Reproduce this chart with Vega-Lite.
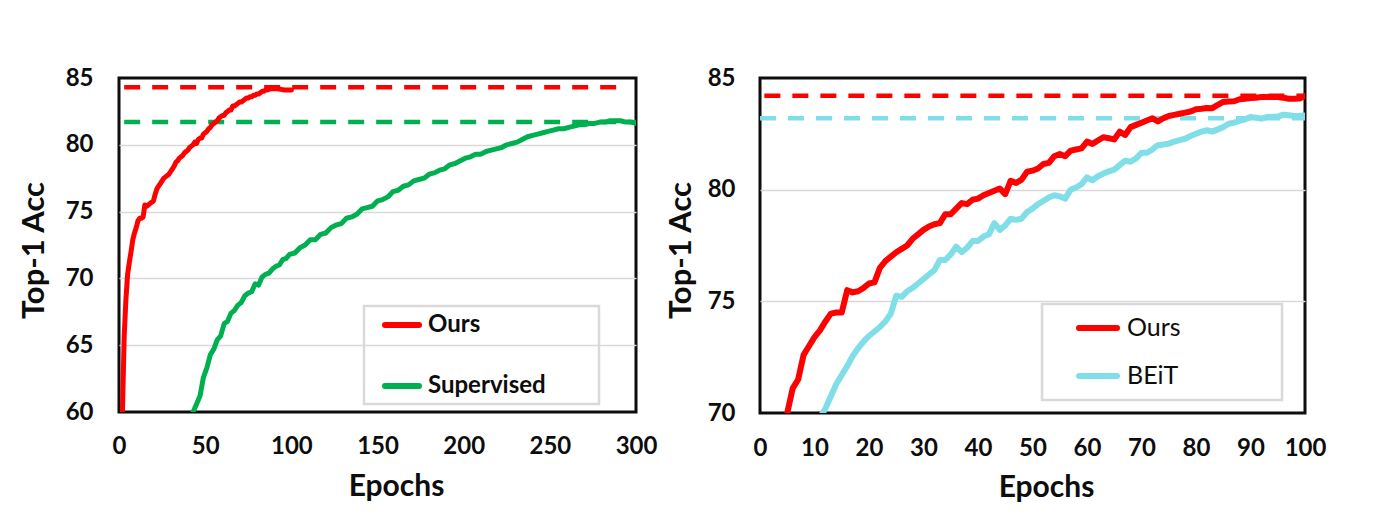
{
  "$schema": "https://vega.github.io/schema/vega-lite/v6.json",
  "background": "white",
  "padding": {"left": 16, "top": 64, "right": 5, "bottom": 5},
  "bounds": "flush",
  "spacing": 124,
  "config": {
    "font": "Lato",
    "view": {"stroke": "#0d0d0d", "strokeWidth": 3},
    "axis": {
      "labelFont": "Lato", "titleFont": "Lato",
      "labelColor": "#0d0d0d", "titleColor": "#0d0d0d",
      "labelFontWeight": "bold", "titleFontWeight": "bold",
      "labelFontSize": 24,
      "ticks": false, "domain": false, "labelFlush": false, "labelOverlap": false,
      "gridColor": "#d9d9d9", "gridWidth": 1.5
    },
    "axisX": {"titleFontSize": 30},
    "axisY": {"titleFontSize": 31}
  },
  "datasets": {
    "leftCurves": [
      {"series":"Ours","epoch":2,"acc":60.0},{"series":"Ours","epoch":3,"acc":65.6},{"series":"Ours","epoch":4,"acc":68.4},{"series":"Ours","epoch":5,"acc":70.3},{"series":"Ours","epoch":6,"acc":71.2},{"series":"Ours","epoch":7,"acc":72.0},{"series":"Ours","epoch":8,"acc":72.9},{"series":"Ours","epoch":9,"acc":73.4},{"series":"Ours","epoch":10,"acc":73.8},{"series":"Ours","epoch":11,"acc":74.3},{"series":"Ours","epoch":12,"acc":74.5},{"series":"Ours","epoch":13,"acc":74.5},{"series":"Ours","epoch":14,"acc":74.6},{"series":"Ours","epoch":15,"acc":75.5},{"series":"Ours","epoch":16,"acc":75.4},{"series":"Ours","epoch":17,"acc":75.5},{"series":"Ours","epoch":18,"acc":75.6},{"series":"Ours","epoch":19,"acc":75.7},{"series":"Ours","epoch":20,"acc":75.8},{"series":"Ours","epoch":21,"acc":76.3},{"series":"Ours","epoch":22,"acc":76.7},{"series":"Ours","epoch":23,"acc":76.9},{"series":"Ours","epoch":24,"acc":77.1},{"series":"Ours","epoch":25,"acc":77.3},{"series":"Ours","epoch":26,"acc":77.5},{"series":"Ours","epoch":27,"acc":77.6},{"series":"Ours","epoch":28,"acc":77.7},{"series":"Ours","epoch":29,"acc":77.8},{"series":"Ours","epoch":30,"acc":78.0},{"series":"Ours","epoch":31,"acc":78.2},{"series":"Ours","epoch":32,"acc":78.4},{"series":"Ours","epoch":33,"acc":78.7},{"series":"Ours","epoch":34,"acc":78.8},{"series":"Ours","epoch":35,"acc":79.0},{"series":"Ours","epoch":36,"acc":79.1},{"series":"Ours","epoch":37,"acc":79.2},{"series":"Ours","epoch":38,"acc":79.4},{"series":"Ours","epoch":39,"acc":79.5},{"series":"Ours","epoch":40,"acc":79.6},{"series":"Ours","epoch":41,"acc":79.8},{"series":"Ours","epoch":42,"acc":79.9},{"series":"Ours","epoch":43,"acc":80.0},{"series":"Ours","epoch":44,"acc":80.2},{"series":"Ours","epoch":45,"acc":80.1},{"series":"Ours","epoch":46,"acc":80.4},{"series":"Ours","epoch":47,"acc":80.5},{"series":"Ours","epoch":48,"acc":80.5},{"series":"Ours","epoch":49,"acc":80.8},{"series":"Ours","epoch":50,"acc":80.9},{"series":"Ours","epoch":51,"acc":81.0},{"series":"Ours","epoch":52,"acc":81.2},{"series":"Ours","epoch":53,"acc":81.3},{"series":"Ours","epoch":54,"acc":81.5},{"series":"Ours","epoch":55,"acc":81.6},{"series":"Ours","epoch":56,"acc":81.7},{"series":"Ours","epoch":57,"acc":81.8},{"series":"Ours","epoch":58,"acc":82.0},{"series":"Ours","epoch":59,"acc":82.1},{"series":"Ours","epoch":60,"acc":82.2},{"series":"Ours","epoch":61,"acc":82.2},{"series":"Ours","epoch":62,"acc":82.4},{"series":"Ours","epoch":63,"acc":82.5},{"series":"Ours","epoch":64,"acc":82.6},{"series":"Ours","epoch":65,"acc":82.6},{"series":"Ours","epoch":66,"acc":82.9},{"series":"Ours","epoch":67,"acc":82.9},{"series":"Ours","epoch":68,"acc":83.0},{"series":"Ours","epoch":69,"acc":83.1},{"series":"Ours","epoch":70,"acc":83.2},{"series":"Ours","epoch":71,"acc":83.2},{"series":"Ours","epoch":72,"acc":83.3},{"series":"Ours","epoch":73,"acc":83.4},{"series":"Ours","epoch":74,"acc":83.5},{"series":"Ours","epoch":75,"acc":83.5},{"series":"Ours","epoch":76,"acc":83.6},{"series":"Ours","epoch":77,"acc":83.6},{"series":"Ours","epoch":78,"acc":83.7},{"series":"Ours","epoch":79,"acc":83.7},{"series":"Ours","epoch":80,"acc":83.8},{"series":"Ours","epoch":81,"acc":83.8},{"series":"Ours","epoch":82,"acc":83.9},{"series":"Ours","epoch":83,"acc":84.0},{"series":"Ours","epoch":84,"acc":84.0},{"series":"Ours","epoch":85,"acc":84.1},{"series":"Ours","epoch":86,"acc":84.1},{"series":"Ours","epoch":87,"acc":84.15},{"series":"Ours","epoch":88,"acc":84.2},{"series":"Ours","epoch":89,"acc":84.2},{"series":"Ours","epoch":90,"acc":84.2},{"series":"Ours","epoch":92,"acc":84.2},{"series":"Ours","epoch":94,"acc":84.15},{"series":"Ours","epoch":96,"acc":84.1},{"series":"Ours","epoch":98,"acc":84.1},{"series":"Ours","epoch":100,"acc":84.1},
      {"series":"Supervised","epoch":43,"acc":60.0},{"series":"Supervised","epoch":45,"acc":60.6},{"series":"Supervised","epoch":47,"acc":61.2},{"series":"Supervised","epoch":49,"acc":62.6},{"series":"Supervised","epoch":51,"acc":63.3},{"series":"Supervised","epoch":53,"acc":64.3},{"series":"Supervised","epoch":55,"acc":64.7},{"series":"Supervised","epoch":57,"acc":65.4},{"series":"Supervised","epoch":59,"acc":65.7},{"series":"Supervised","epoch":61,"acc":66.6},{"series":"Supervised","epoch":63,"acc":66.8},{"series":"Supervised","epoch":65,"acc":67.4},{"series":"Supervised","epoch":67,"acc":67.6},{"series":"Supervised","epoch":69,"acc":68.0},{"series":"Supervised","epoch":71,"acc":68.2},{"series":"Supervised","epoch":73,"acc":68.7},{"series":"Supervised","epoch":75,"acc":68.9},{"series":"Supervised","epoch":77,"acc":69.0},{"series":"Supervised","epoch":79,"acc":69.6},{"series":"Supervised","epoch":81,"acc":69.5},{"series":"Supervised","epoch":83,"acc":70.1},{"series":"Supervised","epoch":85,"acc":70.3},{"series":"Supervised","epoch":87,"acc":70.4},{"series":"Supervised","epoch":89,"acc":70.7},{"series":"Supervised","epoch":91,"acc":70.9},{"series":"Supervised","epoch":93,"acc":71.0},{"series":"Supervised","epoch":95,"acc":71.4},{"series":"Supervised","epoch":97,"acc":71.5},{"series":"Supervised","epoch":99,"acc":71.8},{"series":"Supervised","epoch":102,"acc":71.9},{"series":"Supervised","epoch":105,"acc":72.3},{"series":"Supervised","epoch":108,"acc":72.5},{"series":"Supervised","epoch":111,"acc":72.9},{"series":"Supervised","epoch":114,"acc":72.9},{"series":"Supervised","epoch":117,"acc":73.3},{"series":"Supervised","epoch":120,"acc":73.4},{"series":"Supervised","epoch":123,"acc":73.8},{"series":"Supervised","epoch":126,"acc":74.0},{"series":"Supervised","epoch":129,"acc":74.1},{"series":"Supervised","epoch":132,"acc":74.5},{"series":"Supervised","epoch":135,"acc":74.6},{"series":"Supervised","epoch":138,"acc":74.8},{"series":"Supervised","epoch":141,"acc":75.2},{"series":"Supervised","epoch":144,"acc":75.3},{"series":"Supervised","epoch":147,"acc":75.4},{"series":"Supervised","epoch":150,"acc":75.8},{"series":"Supervised","epoch":153,"acc":75.9},{"series":"Supervised","epoch":156,"acc":76.1},{"series":"Supervised","epoch":159,"acc":76.5},{"series":"Supervised","epoch":162,"acc":76.6},{"series":"Supervised","epoch":165,"acc":76.9},{"series":"Supervised","epoch":168,"acc":77.0},{"series":"Supervised","epoch":171,"acc":77.3},{"series":"Supervised","epoch":174,"acc":77.4},{"series":"Supervised","epoch":177,"acc":77.5},{"series":"Supervised","epoch":180,"acc":77.8},{"series":"Supervised","epoch":183,"acc":77.9},{"series":"Supervised","epoch":186,"acc":78.1},{"series":"Supervised","epoch":189,"acc":78.2},{"series":"Supervised","epoch":192,"acc":78.5},{"series":"Supervised","epoch":195,"acc":78.6},{"series":"Supervised","epoch":198,"acc":78.8},{"series":"Supervised","epoch":201,"acc":79.0},{"series":"Supervised","epoch":204,"acc":79.1},{"series":"Supervised","epoch":207,"acc":79.3},{"series":"Supervised","epoch":210,"acc":79.3},{"series":"Supervised","epoch":213,"acc":79.5},{"series":"Supervised","epoch":216,"acc":79.6},{"series":"Supervised","epoch":219,"acc":79.7},{"series":"Supervised","epoch":222,"acc":79.8},{"series":"Supervised","epoch":225,"acc":80.0},{"series":"Supervised","epoch":228,"acc":80.1},{"series":"Supervised","epoch":231,"acc":80.2},{"series":"Supervised","epoch":234,"acc":80.4},{"series":"Supervised","epoch":237,"acc":80.6},{"series":"Supervised","epoch":240,"acc":80.7},{"series":"Supervised","epoch":243,"acc":80.8},{"series":"Supervised","epoch":246,"acc":80.9},{"series":"Supervised","epoch":249,"acc":81.0},{"series":"Supervised","epoch":252,"acc":81.1},{"series":"Supervised","epoch":255,"acc":81.2},{"series":"Supervised","epoch":258,"acc":81.2},{"series":"Supervised","epoch":261,"acc":81.3},{"series":"Supervised","epoch":264,"acc":81.4},{"series":"Supervised","epoch":267,"acc":81.5},{"series":"Supervised","epoch":270,"acc":81.5},{"series":"Supervised","epoch":273,"acc":81.6},{"series":"Supervised","epoch":276,"acc":81.6},{"series":"Supervised","epoch":279,"acc":81.7},{"series":"Supervised","epoch":282,"acc":81.7},{"series":"Supervised","epoch":285,"acc":81.8},{"series":"Supervised","epoch":288,"acc":81.8},{"series":"Supervised","epoch":291,"acc":81.8},{"series":"Supervised","epoch":294,"acc":81.7},{"series":"Supervised","epoch":297,"acc":81.7},{"series":"Supervised","epoch":300,"acc":81.6}
    ],
    "leftRefs": [
      {"series":"Ours","epoch":3,"acc":84.3},{"series":"Ours","epoch":290,"acc":84.3},
      {"series":"Supervised","epoch":3,"acc":81.7},{"series":"Supervised","epoch":300,"acc":81.7}
    ],
    "rightCurves": [
      {"series":"Ours","epoch":5,"acc":70.0},{"series":"Ours","epoch":6,"acc":71.1},{"series":"Ours","epoch":7,"acc":71.5},{"series":"Ours","epoch":8,"acc":72.6},{"series":"Ours","epoch":9,"acc":73.0},{"series":"Ours","epoch":10,"acc":73.4},{"series":"Ours","epoch":11,"acc":73.7},{"series":"Ours","epoch":12,"acc":74.1},{"series":"Ours","epoch":13,"acc":74.45},{"series":"Ours","epoch":14,"acc":74.5},{"series":"Ours","epoch":15,"acc":74.5},{"series":"Ours","epoch":16,"acc":75.5},{"series":"Ours","epoch":17,"acc":75.4},{"series":"Ours","epoch":18,"acc":75.45},{"series":"Ours","epoch":19,"acc":75.6},{"series":"Ours","epoch":20,"acc":75.8},{"series":"Ours","epoch":21,"acc":75.85},{"series":"Ours","epoch":22,"acc":76.5},{"series":"Ours","epoch":23,"acc":76.8},{"series":"Ours","epoch":24,"acc":77.0},{"series":"Ours","epoch":25,"acc":77.2},{"series":"Ours","epoch":26,"acc":77.35},{"series":"Ours","epoch":27,"acc":77.5},{"series":"Ours","epoch":28,"acc":77.8},{"series":"Ours","epoch":29,"acc":78.0},{"series":"Ours","epoch":30,"acc":78.2},{"series":"Ours","epoch":31,"acc":78.35},{"series":"Ours","epoch":32,"acc":78.45},{"series":"Ours","epoch":33,"acc":78.5},{"series":"Ours","epoch":34,"acc":78.9},{"series":"Ours","epoch":35,"acc":78.9},{"series":"Ours","epoch":36,"acc":79.15},{"series":"Ours","epoch":37,"acc":79.4},{"series":"Ours","epoch":38,"acc":79.35},{"series":"Ours","epoch":39,"acc":79.55},{"series":"Ours","epoch":40,"acc":79.6},{"series":"Ours","epoch":41,"acc":79.75},{"series":"Ours","epoch":42,"acc":79.85},{"series":"Ours","epoch":43,"acc":79.95},{"series":"Ours","epoch":44,"acc":80.05},{"series":"Ours","epoch":45,"acc":79.8},{"series":"Ours","epoch":46,"acc":80.4},{"series":"Ours","epoch":47,"acc":80.3},{"series":"Ours","epoch":48,"acc":80.45},{"series":"Ours","epoch":49,"acc":80.8},{"series":"Ours","epoch":50,"acc":80.85},{"series":"Ours","epoch":51,"acc":80.95},{"series":"Ours","epoch":52,"acc":81.15},{"series":"Ours","epoch":53,"acc":81.2},{"series":"Ours","epoch":54,"acc":81.5},{"series":"Ours","epoch":55,"acc":81.6},{"series":"Ours","epoch":56,"acc":81.5},{"series":"Ours","epoch":57,"acc":81.75},{"series":"Ours","epoch":58,"acc":81.8},{"series":"Ours","epoch":59,"acc":81.85},{"series":"Ours","epoch":60,"acc":82.15},{"series":"Ours","epoch":61,"acc":82.05},{"series":"Ours","epoch":62,"acc":82.2},{"series":"Ours","epoch":63,"acc":82.35},{"series":"Ours","epoch":64,"acc":82.3},{"series":"Ours","epoch":65,"acc":82.25},{"series":"Ours","epoch":66,"acc":82.6},{"series":"Ours","epoch":67,"acc":82.45},{"series":"Ours","epoch":68,"acc":82.8},{"series":"Ours","epoch":69,"acc":82.9},{"series":"Ours","epoch":70,"acc":83.0},{"series":"Ours","epoch":71,"acc":83.1},{"series":"Ours","epoch":72,"acc":83.2},{"series":"Ours","epoch":73,"acc":83.05},{"series":"Ours","epoch":74,"acc":83.2},{"series":"Ours","epoch":75,"acc":83.3},{"series":"Ours","epoch":76,"acc":83.35},{"series":"Ours","epoch":77,"acc":83.4},{"series":"Ours","epoch":78,"acc":83.45},{"series":"Ours","epoch":79,"acc":83.5},{"series":"Ours","epoch":80,"acc":83.6},{"series":"Ours","epoch":81,"acc":83.62},{"series":"Ours","epoch":82,"acc":83.66},{"series":"Ours","epoch":83,"acc":83.65},{"series":"Ours","epoch":84,"acc":83.8},{"series":"Ours","epoch":85,"acc":83.93},{"series":"Ours","epoch":86,"acc":83.95},{"series":"Ours","epoch":87,"acc":83.96},{"series":"Ours","epoch":88,"acc":84.05},{"series":"Ours","epoch":89,"acc":84.07},{"series":"Ours","epoch":90,"acc":84.1},{"series":"Ours","epoch":91,"acc":84.12},{"series":"Ours","epoch":92,"acc":84.15},{"series":"Ours","epoch":93,"acc":84.15},{"series":"Ours","epoch":94,"acc":84.15},{"series":"Ours","epoch":95,"acc":84.15},{"series":"Ours","epoch":96,"acc":84.12},{"series":"Ours","epoch":97,"acc":84.07},{"series":"Ours","epoch":98,"acc":84.07},{"series":"Ours","epoch":99,"acc":84.08},{"series":"Ours","epoch":100,"acc":84.2},
      {"series":"BEiT","epoch":11,"acc":69.8},{"series":"BEiT","epoch":12,"acc":70.2},{"series":"BEiT","epoch":13,"acc":70.75},{"series":"BEiT","epoch":14,"acc":71.3},{"series":"BEiT","epoch":15,"acc":71.7},{"series":"BEiT","epoch":16,"acc":72.1},{"series":"BEiT","epoch":17,"acc":72.55},{"series":"BEiT","epoch":18,"acc":72.9},{"series":"BEiT","epoch":19,"acc":73.2},{"series":"BEiT","epoch":20,"acc":73.45},{"series":"BEiT","epoch":21,"acc":73.65},{"series":"BEiT","epoch":22,"acc":73.85},{"series":"BEiT","epoch":23,"acc":74.1},{"series":"BEiT","epoch":24,"acc":74.45},{"series":"BEiT","epoch":25,"acc":75.25},{"series":"BEiT","epoch":26,"acc":75.2},{"series":"BEiT","epoch":27,"acc":75.45},{"series":"BEiT","epoch":28,"acc":75.6},{"series":"BEiT","epoch":29,"acc":75.8},{"series":"BEiT","epoch":30,"acc":76.0},{"series":"BEiT","epoch":31,"acc":76.2},{"series":"BEiT","epoch":32,"acc":76.4},{"series":"BEiT","epoch":33,"acc":76.85},{"series":"BEiT","epoch":34,"acc":76.85},{"series":"BEiT","epoch":35,"acc":77.1},{"series":"BEiT","epoch":36,"acc":77.45},{"series":"BEiT","epoch":37,"acc":77.2},{"series":"BEiT","epoch":38,"acc":77.4},{"series":"BEiT","epoch":39,"acc":77.7},{"series":"BEiT","epoch":40,"acc":77.7},{"series":"BEiT","epoch":41,"acc":77.9},{"series":"BEiT","epoch":42,"acc":78.0},{"series":"BEiT","epoch":43,"acc":78.5},{"series":"BEiT","epoch":44,"acc":78.2},{"series":"BEiT","epoch":45,"acc":78.4},{"series":"BEiT","epoch":46,"acc":78.7},{"series":"BEiT","epoch":47,"acc":78.65},{"series":"BEiT","epoch":48,"acc":78.7},{"series":"BEiT","epoch":49,"acc":79.0},{"series":"BEiT","epoch":50,"acc":79.15},{"series":"BEiT","epoch":51,"acc":79.35},{"series":"BEiT","epoch":52,"acc":79.5},{"series":"BEiT","epoch":53,"acc":79.65},{"series":"BEiT","epoch":54,"acc":79.75},{"series":"BEiT","epoch":55,"acc":79.7},{"series":"BEiT","epoch":56,"acc":79.6},{"series":"BEiT","epoch":57,"acc":80.0},{"series":"BEiT","epoch":58,"acc":80.1},{"series":"BEiT","epoch":59,"acc":80.25},{"series":"BEiT","epoch":60,"acc":80.55},{"series":"BEiT","epoch":61,"acc":80.42},{"series":"BEiT","epoch":62,"acc":80.6},{"series":"BEiT","epoch":63,"acc":80.72},{"series":"BEiT","epoch":64,"acc":80.82},{"series":"BEiT","epoch":65,"acc":80.9},{"series":"BEiT","epoch":66,"acc":81.1},{"series":"BEiT","epoch":67,"acc":81.3},{"series":"BEiT","epoch":68,"acc":81.25},{"series":"BEiT","epoch":69,"acc":81.4},{"series":"BEiT","epoch":70,"acc":81.65},{"series":"BEiT","epoch":71,"acc":81.65},{"series":"BEiT","epoch":72,"acc":81.8},{"series":"BEiT","epoch":73,"acc":81.99},{"series":"BEiT","epoch":74,"acc":82.02},{"series":"BEiT","epoch":75,"acc":82.06},{"series":"BEiT","epoch":76,"acc":82.15},{"series":"BEiT","epoch":77,"acc":82.22},{"series":"BEiT","epoch":78,"acc":82.28},{"series":"BEiT","epoch":79,"acc":82.4},{"series":"BEiT","epoch":80,"acc":82.5},{"series":"BEiT","epoch":81,"acc":82.6},{"series":"BEiT","epoch":82,"acc":82.66},{"series":"BEiT","epoch":83,"acc":82.6},{"series":"BEiT","epoch":84,"acc":82.7},{"series":"BEiT","epoch":85,"acc":82.8},{"series":"BEiT","epoch":86,"acc":82.95},{"series":"BEiT","epoch":87,"acc":83.0},{"series":"BEiT","epoch":88,"acc":83.08},{"series":"BEiT","epoch":89,"acc":83.15},{"series":"BEiT","epoch":90,"acc":83.25},{"series":"BEiT","epoch":91,"acc":83.22},{"series":"BEiT","epoch":92,"acc":83.18},{"series":"BEiT","epoch":93,"acc":83.25},{"series":"BEiT","epoch":94,"acc":83.26},{"series":"BEiT","epoch":95,"acc":83.26},{"series":"BEiT","epoch":96,"acc":83.36},{"series":"BEiT","epoch":97,"acc":83.33},{"series":"BEiT","epoch":98,"acc":83.3},{"series":"BEiT","epoch":99,"acc":83.3},{"series":"BEiT","epoch":100,"acc":83.32}
    ],
    "rightRefs": [
      {"series":"Ours","epoch":0.8,"acc":84.2},{"series":"Ours","epoch":100,"acc":84.2},
      {"series":"BEiT","epoch":0,"acc":83.2},{"series":"BEiT","epoch":100,"acc":83.2}
    ]
  },
  "hconcat": [
    {
      "width": 517,
      "height": 334,
      "encoding": {
        "x": {"field": "epoch", "type": "quantitative", "scale": {"domain": [0, 300], "nice": false},
              "axis": {"values": [0, 50, 100, 150, 200, 250, 300], "title": "Epochs", "grid": false, "labelPadding": 22, "titleX": 277, "titleY": 59}},
        "y": {"field": "acc", "type": "quantitative", "scale": {"domain": [60, 85], "nice": false, "zero": false},
              "axis": {"values": [60, 65, 70, 75, 80, 85], "title": "Top-1 Acc", "labelPadding": 26, "titleX": -69, "titleY": 172,
                       "gridOpacity": {"condition": {"test": "datum.value <= 60 || datum.value >= 85", "value": 0}, "value": 1}}}
      },
      "layer": [
        {"data": {"name": "leftRefs"}, "transform": [{"filter": "datum.series === 'Ours'"}],
         "mark": {"type": "line", "color": "#FF0000", "strokeWidth": 4.5, "strokeDash": [16, 12], "clip": true}},
        {"data": {"name": "leftRefs"}, "transform": [{"filter": "datum.series === 'Supervised'"}],
         "mark": {"type": "line", "color": "#00B050", "strokeWidth": 4.5, "strokeDash": [16, 12], "clip": true}},
        {"data": {"name": "leftCurves"},
         "mark": {"type": "line", "strokeWidth": 5, "strokeCap": "round", "strokeJoin": "round", "clip": true},
         "encoding": {
           "color": {"field": "series", "type": "nominal",
                     "scale": {"domain": ["Ours", "Supervised"], "range": ["#FF0000", "#00B050"]},
                     "legend": {"orient": "none", "legendX": 245, "legendY": 228, "title": null,
                                "symbolType": "M-1.7,0H1.7", "symbolSize": 400, "symbolStrokeWidth": 6, "symbolOffset": 19,
                                "labelFont": "Lato", "labelFontSize": 24, "labelFontWeight": "bold", "labelColor": "#0d0d0d",
                                "labelOffset": 13, "rowPadding": 36, "padding": 6, "strokeColor": "#d9d9d9", "labelLimit": 600,
                                "labelExpr": "pad(datum.label, 18, '\u00a0') + '\u200b'",
                                "encode": {"legend": {"update": {"strokeWidth": {"value": 2.5}}},
                                           "symbols": {"update": {"strokeCap": {"value": "round"}}}}}}
         }}
      ]
    },
    {
      "width": 545,
      "height": 335,
      "encoding": {
        "x": {"field": "epoch", "type": "quantitative", "scale": {"domain": [0, 100], "nice": false},
              "axis": {"values": [0, 10, 20, 30, 40, 50, 60, 70, 80, 90, 100], "title": "Epochs", "grid": false, "labelPadding": 23, "titleX": 286, "titleY": 59}},
        "y": {"field": "acc", "type": "quantitative", "scale": {"domain": [70, 85], "nice": false, "zero": false},
              "axis": {"values": [70, 75, 80, 85], "title": "Top-1 Acc", "labelPadding": 25, "titleX": -63, "titleY": 172,
                       "gridOpacity": {"condition": {"test": "datum.value <= 70 || datum.value >= 85", "value": 0}, "value": 1}}}
      },
      "layer": [
        {"data": {"name": "rightRefs"}, "transform": [{"filter": "datum.series === 'Ours'"}],
         "mark": {"type": "line", "color": "#FF0000", "strokeWidth": 4.5, "strokeDash": [16, 12], "clip": true}},
        {"data": {"name": "rightRefs"}, "transform": [{"filter": "datum.series === 'BEiT'"}],
         "mark": {"type": "line", "color": "#80DEE8", "strokeWidth": 4.5, "strokeDash": [16, 12], "clip": true}},
        {"data": {"name": "rightCurves"},
         "mark": {"type": "line", "strokeWidth": 6, "strokeCap": "round", "strokeJoin": "round", "clip": true},
         "encoding": {
           "color": {"field": "series", "type": "nominal",
                     "scale": {"domain": ["Ours", "BEiT"], "range": ["#FF0000", "#80DEE8"]},
                     "legend": {"orient": "none", "legendX": 282, "legendY": 226, "title": null,
                                "symbolType": "M-1.9,0H1.9", "symbolSize": 400, "symbolStrokeWidth": 6, "symbolOffset": 32,
                                "labelFont": "Lato", "labelFontSize": 25, "labelFontWeight": "normal", "labelColor": "#0d0d0d",
                                "labelOffset": 16, "rowPadding": 22, "padding": 11, "strokeColor": "#d9d9d9", "labelLimit": 600,
                                "labelExpr": "pad(datum.label, 18, '\u00a0') + '\u200b'",
                                "encode": {"legend": {"update": {"strokeWidth": {"value": 2.5}}},
                                           "symbols": {"update": {"strokeCap": {"value": "round"}}}}}}
         }}
      ]
    }
  ],
  "resolve": {"scale": {"color": "independent"}, "legend": {"color": "independent"}}
}
